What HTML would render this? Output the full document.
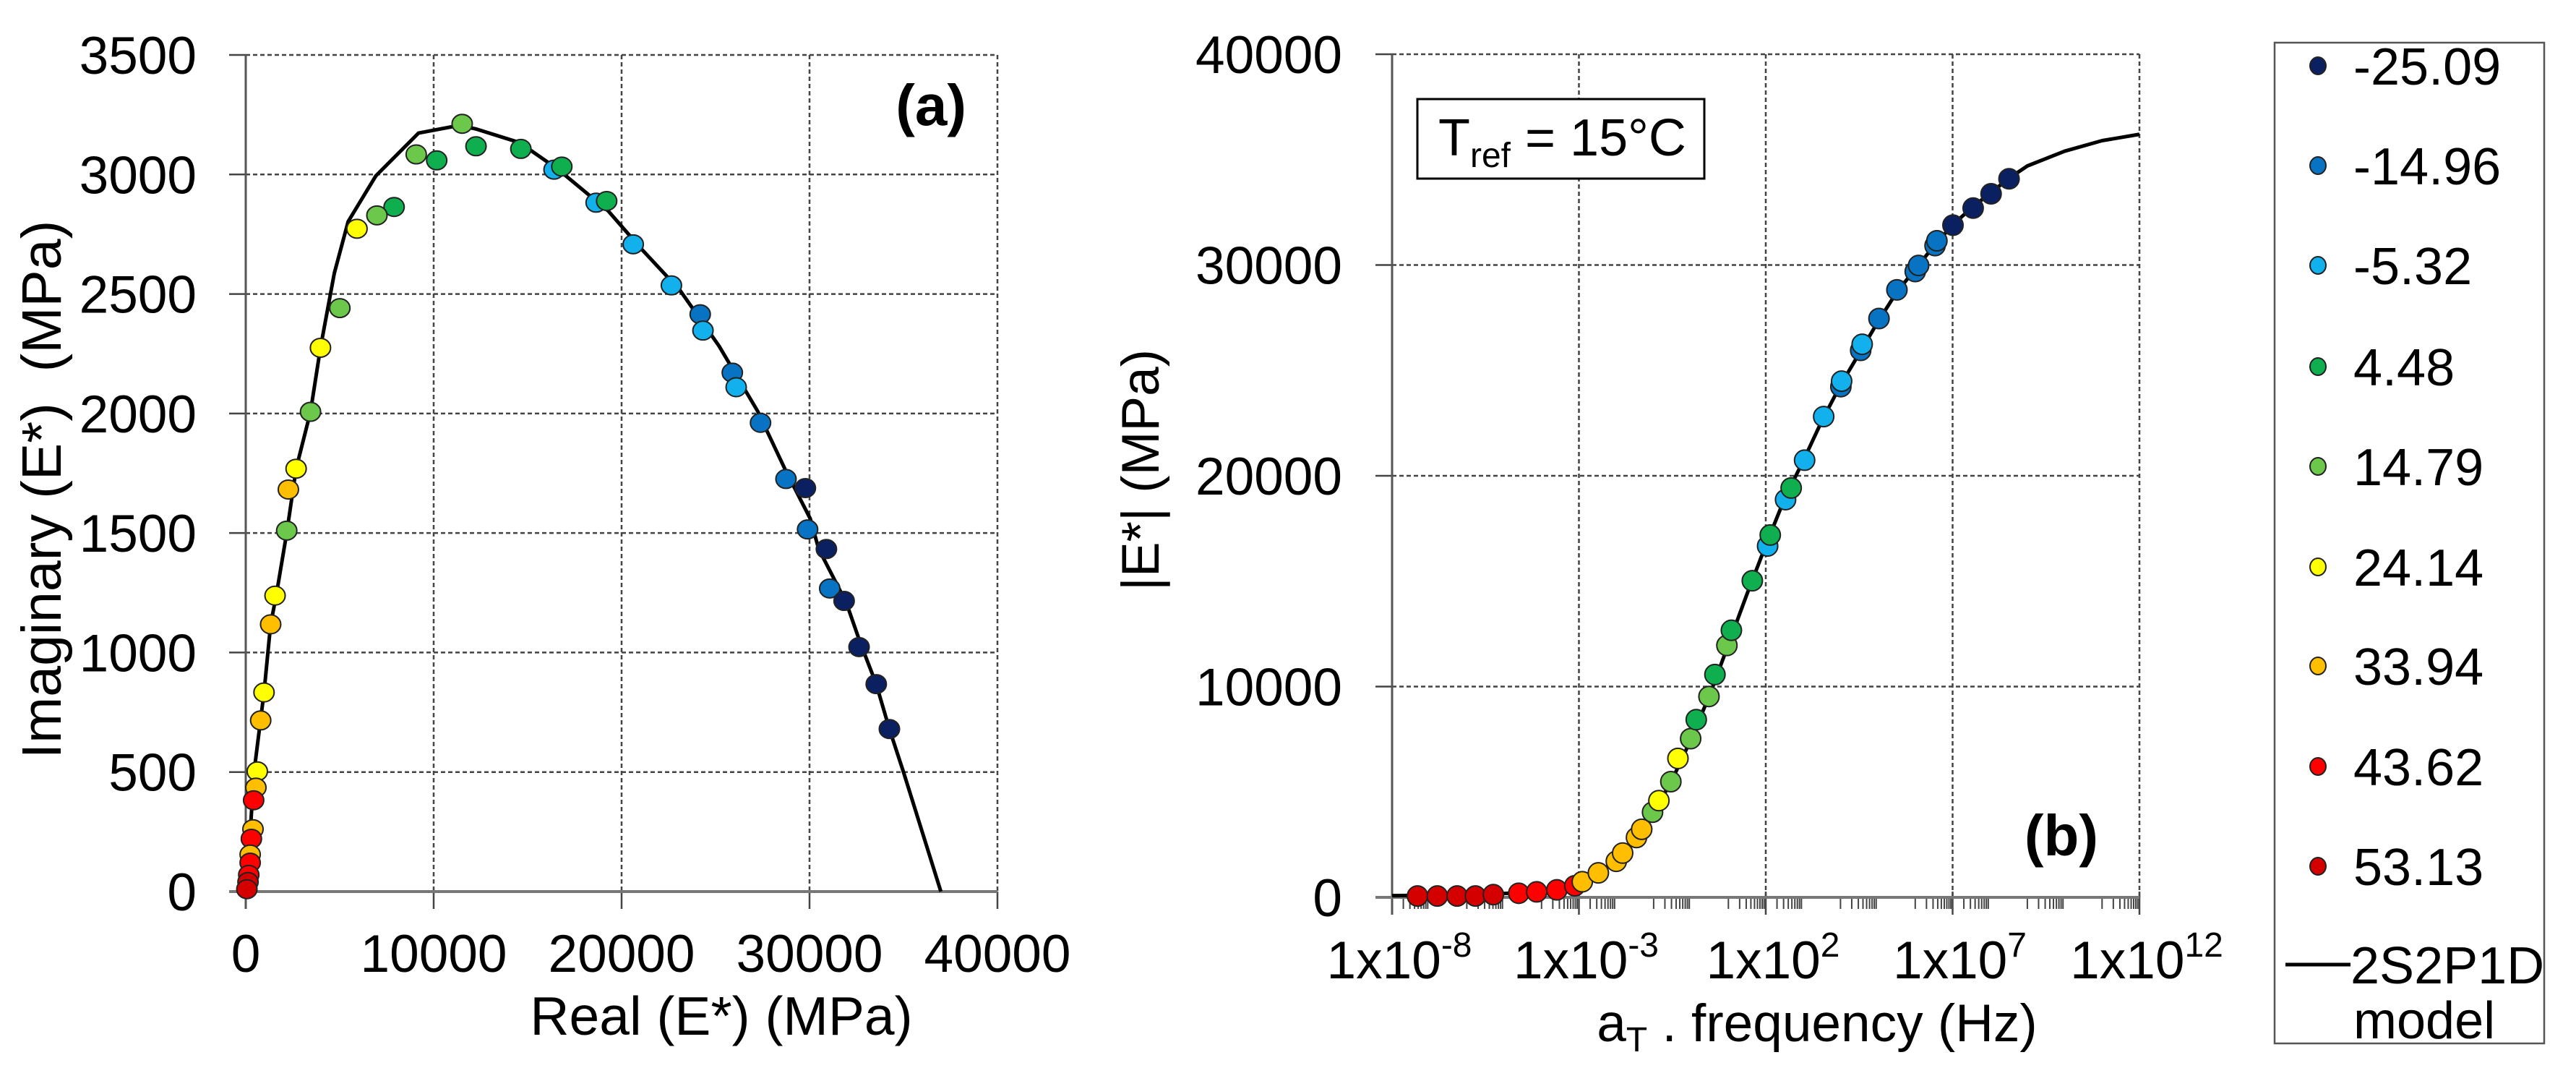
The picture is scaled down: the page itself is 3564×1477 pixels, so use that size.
<!DOCTYPE html>
<html><head><meta charset="utf-8"><style>
html,body{margin:0;padding:0;background:#fff;}
svg{display:block;font-family:"Liberation Sans",Arial,sans-serif;}
</style></head><body>
<svg id="chart" width="3564" height="1477" viewBox="0 0 3564 1477">
<g id="pa"></g>
<g id="pb"></g>
<g id="leg"></g>
</svg>
<script>
const NS="http://www.w3.org/2000/svg";
const legendLabels=["-25.09","-14.96","-5.32","4.48","14.79","24.14","33.94","43.62","53.13"];
const catColors=["#0b2060","#0873c2","#12b0ec","#0fae4e","#6cc84a","#ffff00","#ffbf00","#ff0000","#d40000"];
// plot (a) Cole-Cole data
const aReal=[11517,12253,14640,9072,10162,16406,16819,18645,19205,7894,6981,5920,20619,22651,24183,24330,5007,3976,3446,25891,26097,27393,2680,2268,28748,29779,2180,29897,30898,31075,31841,32636,33550,34250,1560,1325,972,795,615,540,420,385,300,235,235,160,120,60];
const aImag=[3212,3118,3107,3084,3059,3020,3033,2882,2889,2864,2829,2773,2708,2536,2415,2347,2441,2275,2007,2171,2110,1961,1769,1682,1726,1688,1510,1515,1433,1268,1216,1023,868,680,1238,1118,833,716,503,435,382,261,221,155,121,70,40,10];
const aCat=[4,3,3,4,3,2,3,2,3,3,4,5,2,2,1,2,4,5,4,1,2,1,5,6,1,0,4,1,0,1,0,0,0,0,5,6,5,6,5,6,7,6,7,6,7,7,8,8];
const aModelX=[0,60,200,441,972,1325,1620,2180,2680,3446,3976,4713,5449,6922,9190,11340,12224,14580,16640,19293,21060,23120,25180,27245,28720,30040,30490,31960,32690,33550,34250,35000,36990];
const aModelY=[0,60,200,500,833,1118,1238,1500,1769,2007,2275,2587,2803,2994,3173,3205,3191,3133,3020,2847,2688,2514,2283,2009,1763,1560,1433,1208,1043,868,680,500,0];
const aXTicks=[0,10000,20000,30000,40000];
const aYTicks=[0,500,1000,1500,2000,2500,3000,3500];
// plot (b) master curve data
const bLogF=[-7.32,-6.79,-6.26,-5.77,-5.29,-4.61,-4.13,-3.59,-3.11,-2.91,-2.48,-2.0,-1.83,-1.46,-1.32,-1.03,-0.86,-0.54,-0.35,-0.01,0.14,0.48,0.64,0.96,1.08,1.64,2.05,2.12,2.53,2.68,3.04,3.55,4.01,4.03,4.54,4.58,5.03,5.51,6.0,6.09,6.53,6.58,7.01,7.55,8.03,8.51];
const bMod=[65,65,65,65,130,195,260,355,550,740,1160,1710,2100,2840,3230,4040,4590,5490,6590,7530,8430,9530,10570,11950,12670,15020,16670,17190,18870,19420,20740,22810,24230,24490,25950,26240,27460,28820,29690,29980,30920,31150,31890,32700,33380,34090];
const bCat=[8,8,8,8,8,7,7,7,7,6,6,6,6,6,6,4,5,4,5,4,3,4,3,4,3,3,2,3,2,3,2,2,1,2,1,2,1,1,1,1,1,1,0,0,0,0];
const bModelX=[-8,-6,-4,-3,-2.5,-2,-1.5,-1,-0.5,0,0.5,1,1.5,2,2.5,3,3.5,4,4.5,5,5.5,6,6.5,7,7.5,8,8.5,9,10,11,12];
const bModelY=[80,120,250,520,1100,1800,2800,4000,5600,7500,9600,12000,14400,16700,18900,20700,22600,24300,25800,27300,28700,29800,30900,31900,32700,33400,34100,34700,35400,35900,36200];
const bXTicks=[-8,-3,2,7,12];
const bYTicks=[0,10000,20000,30000,40000];

function el(tag,attrs,parent,name){const e=document.createElementNS(NS,tag);for(const k in attrs)e.setAttribute(k,attrs[k]);


parent.appendChild(e);return e;}

// axes (a)
const A={l:340,r:1380,t:76,b:1233};
const ax=v=>A.l+(v-0)/40000*(A.r-A.l);
const ay=v=>A.b-v/3500*(A.b-A.t);
const pa=document.getElementById('pa');
aYTicks.forEach(v=>{const y=ay(v);
 if(v>0) el('line',{x1:A.l,x2:A.r,y1:y,y2:y,stroke:'#444','stroke-width':2.5,'stroke-dasharray':'6,4'},pa,'grid-line-y');
 el('line',{x1:A.l-23,x2:A.l,y1:y,y2:y,stroke:'#444','stroke-width':2.5},pa,'y-tick');
 const t=el('text',{x:272,y:y+26,'text-anchor':'end','font-size':73,fill:'#000'},pa,'y-tick-label');t.textContent=v;});
aXTicks.forEach(v=>{const x=ax(v);
 if(v>0) el('line',{x1:x,x2:x,y1:A.t,y2:A.b,stroke:'#444','stroke-width':2.5,'stroke-dasharray':'6,4'},pa,'grid-line-x');
 el('line',{x1:x,x2:x,y1:A.b,y2:A.b+24,stroke:'#444','stroke-width':2.5},pa,'x-tick');
 const t=el('text',{x:x,y:1344,'text-anchor':'middle','font-size':73,fill:'#000'},pa,'x-tick-label');t.textContent=v;});
el('line',{x1:A.l,x2:A.l,y1:A.t,y2:A.b+24,stroke:'#555','stroke-width':3},pa,'y-axis-line');
el('line',{x1:A.l-23,x2:A.r,y1:A.b,y2:A.b,stroke:'#777','stroke-width':4},pa,'x-axis-line');
el('polyline',{points:aModelX.map((v,i)=>ax(v)+','+ay(aModelY[i])).join(' '),fill:'none',stroke:'#000','stroke-width':5,'stroke-linejoin':'round'},pa,'model-curve-a');
aReal.forEach((v,i)=>{el('ellipse',{cx:ax(v),cy:ay(aImag[i]),rx:14,ry:13,fill:catColors[aCat[i]],stroke:'#222','stroke-width':2},pa,'point-a');});
let t=el('text',{x:1337,y:173,'text-anchor':'end','font-size':80,'font-weight':'bold'},pa,'panel-label-a');t.textContent='(a)';
t=el('text',{x:998,y:1431,'text-anchor':'middle','font-size':75},pa,'x-axis-title-a');t.textContent='Real (E*) (MPa)';
t=el('text',{x:0,y:0,'text-anchor':'middle','font-size':77,transform:'translate(84,677) rotate(-90)',style:'white-space:pre'},pa,'y-axis-title-a');t.textContent='Imaginary (E*)  (MPa)';

// axes (b)
const B={l:1926,r:2960,t:75,b:1241};
const bx=v=>B.l+(v+8)/20*(B.r-B.l);
const by=v=>B.b-v/40000*(B.b-B.t);
const pb=document.getElementById('pb');
bYTicks.forEach(v=>{const y=by(v);
 if(v>0) el('line',{x1:B.l,x2:B.r,y1:y,y2:y,stroke:'#444','stroke-width':2.5,'stroke-dasharray':'6,4'},pb,'grid-line-y');
 el('line',{x1:B.l-23,x2:B.l,y1:y,y2:y,stroke:'#444','stroke-width':2.5},pb,'y-tick');
 const tt=el('text',{x:1857,y:y+26,'text-anchor':'end','font-size':73},pb,'y-tick-label');tt.textContent=v;});
bXTicks.forEach(v=>{const x=bx(v);
 if(v>-8) el('line',{x1:x,x2:x,y1:B.t,y2:B.b,stroke:'#444','stroke-width':2.5,'stroke-dasharray':'6,4'},pb,'grid-line-x');
 el('line',{x1:x,x2:x,y1:B.b-8,y2:B.b+24,stroke:'#444','stroke-width':2.5},pb,'x-tick');
 if(v<12){[0,2,4].forEach(off=>{for(let k=1;k<=9;k++){if(off===0&&k===1)continue;const mx=bx(v+off+Math.log10(k));
  el('line',{x1:mx,x2:mx,y1:B.b,y2:B.b+16,stroke:'#444','stroke-width':2},pb,'minor-tick');}});}
 const tt=el('text',{x:x+10,y:1353,'text-anchor':'middle','font-size':73},pb,'x-tick-label');
 const s1=document.createElementNS(NS,'tspan');s1.textContent='1x10';tt.appendChild(s1);
 const s2=document.createElementNS(NS,'tspan');s2.setAttribute('font-size','48');s2.setAttribute('dy','-30');s2.textContent=String(v);tt.appendChild(s2);});
el('line',{x1:B.l,x2:B.l,y1:B.t,y2:B.b+24,stroke:'#555','stroke-width':3},pb,'y-axis-line');
el('line',{x1:B.l-23,x2:B.r,y1:B.b,y2:B.b,stroke:'#777','stroke-width':4},pb,'x-axis-line');
el('polyline',{points:bModelX.map((v,i)=>bx(v)+','+by(bModelY[i])).join(' '),fill:'none',stroke:'#000','stroke-width':5,'stroke-linejoin':'round'},pb,'model-curve-b');
bLogF.forEach((v,i)=>{el('ellipse',{cx:bx(v),cy:by(bMod[i]),rx:14,ry:14,fill:catColors[bCat[i]],stroke:'#222','stroke-width':2},pb,'point-b');});
t=el('text',{x:2903,y:1183,'text-anchor':'end','font-size':80,'font-weight':'bold'},pb,'panel-label-b');t.textContent='(b)';
el('rect',{x:1961,y:137,width:397,height:110,fill:'#fff',stroke:'#000','stroke-width':3},pb,'tref-box');
t=el('text',{x:1990,y:215,'font-size':72},pb,'tref-label');
t.innerHTML='T<tspan font-size="48" dy="16">ref</tspan><tspan dy="-16"> = 15°C</tspan>';
t=el('text',{x:2514,y:1440,'text-anchor':'middle','font-size':73},pb,'x-axis-title-b');
t.innerHTML='a<tspan font-size="48" dy="14">T</tspan><tspan dy="-14"> . frequency (Hz)</tspan>';
t=el('text',{x:0,y:0,'text-anchor':'middle','font-size':73,transform:'translate(1603,650) rotate(-90)'},pb,'y-axis-title-b');t.textContent='|E*| (MPa)';

// legend
const lg=document.getElementById('leg');
el('rect',{x:3147,y:59,width:373,height:1384,fill:'#fff',stroke:'#555','stroke-width':2.5},lg,'legend-box');
const legY=[91,229,367,507,645,784,921,1060,1198];
legendLabels.forEach((s,i)=>{
 el('ellipse',{cx:3207,cy:legY[i],rx:11,ry:12,fill:catColors[i],stroke:'#222','stroke-width':2},lg,'legend-marker');
 const tt=el('text',{x:3256,y:legY[i]+26,'font-size':72},lg,'legend-label');tt.textContent=s;});
el('line',{x1:3162,x2:3252,y1:1334,y2:1334,stroke:'#000','stroke-width':5},lg,'legend-line');
t=el('text',{x:3252,y:1360,'font-size':72},lg,'legend-label');t.textContent='2S2P1D';
t=el('text',{x:3256,y:1436,'font-size':72},lg,'legend-label');t.textContent='model';
</script>
</body></html>
